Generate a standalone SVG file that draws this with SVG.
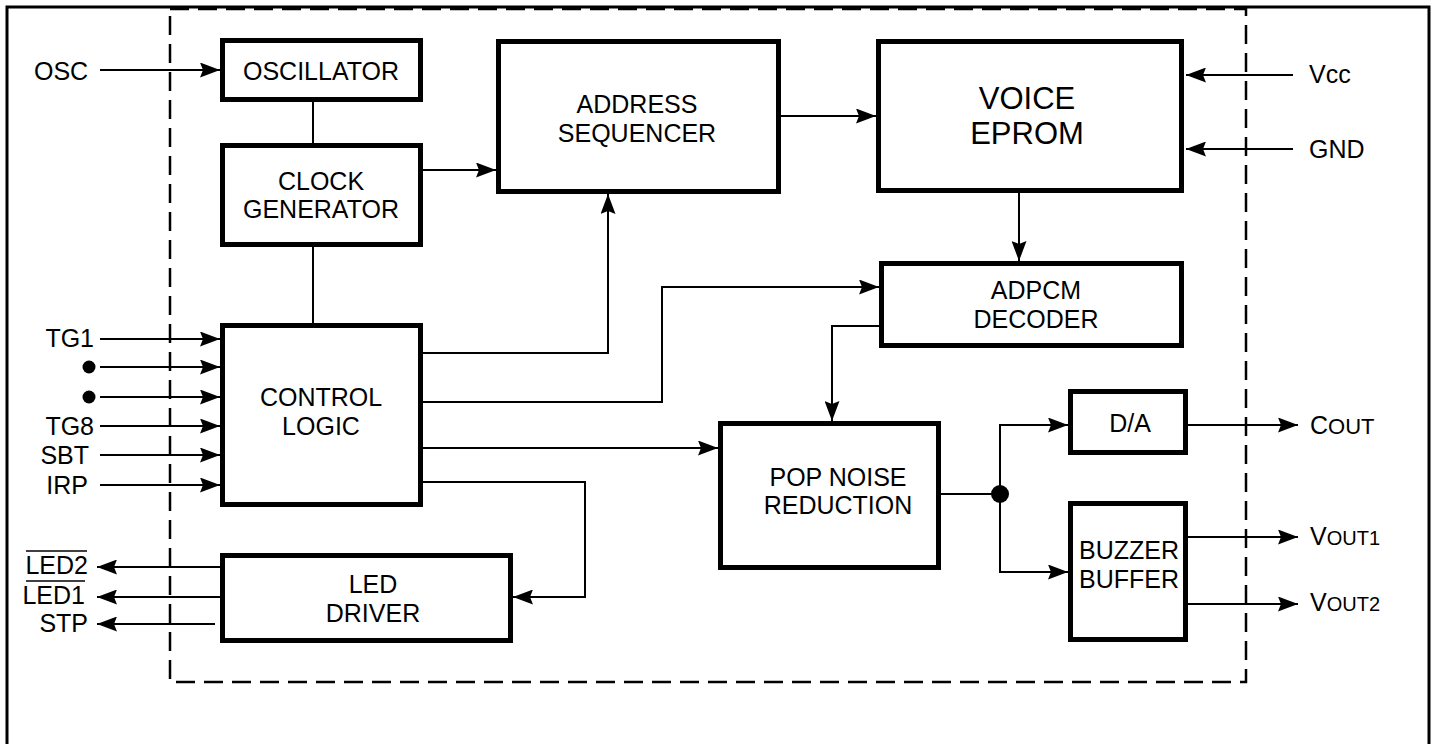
<svg xmlns="http://www.w3.org/2000/svg" width="1437" height="744" viewBox="0 0 1437 744">
<style>
.box{fill:#fff;stroke:#000;stroke-width:5}
.ln{fill:none;stroke:#000;stroke-width:2}
.arr{marker-end:url(#ah)}
text{font-family:"Liberation Sans",Arial,Helvetica,sans-serif;font-size:25px;fill:#000}
.c{text-anchor:middle}
.r{text-anchor:end}
.big{font-size:31px}
.sm{font-size:20px}
</style>
<defs>
<marker id="ah" viewBox="0 0 20 15" refX="20" refY="7.5" markerWidth="20" markerHeight="15" markerUnits="userSpaceOnUse" orient="auto">
<path d="M0,0 L20,7.5 L0,15 L3,7.5 z" fill="#000"/>
</marker>
</defs>
<rect width="1437" height="744" fill="#fff"/>
<rect x="7" y="7" width="1422" height="780" fill="none" stroke="#000" stroke-width="3"/>
<rect x="170" y="9" width="1076" height="673" fill="none" stroke="#000" stroke-width="2.5" stroke-dasharray="19 9"/>

<g id="connectors">
<path class="ln arr" d="M100,70 H220"/>
<path class="ln" d="M313,102 V143"/>
<path class="ln" d="M313,247 V323"/>
<path class="ln arr" d="M423,170 H496"/>
<path class="ln arr" d="M781,116 H876"/>
<path class="ln arr" d="M423,353 H608 V194"/>
<path class="ln arr" d="M423,402 H662 V287 H879"/>
<path class="ln arr" d="M1019,193 V261"/>
<path class="ln arr" d="M879,326 H832 V421"/>
<path class="ln arr" d="M423,448 H718"/>
<path class="ln arr" d="M423,482 H585 V597 H513"/>
<path class="ln" d="M941,494 H1000"/>
<path class="ln arr" d="M1000,494 V425 H1068"/>
<path class="ln arr" d="M1000,494 V572 H1068"/>
<circle cx="1000" cy="494" r="9" fill="#000"/>
<path class="ln arr" d="M1188,425 H1298"/>
<path class="ln arr" d="M1188,537 H1298"/>
<path class="ln arr" d="M1188,604 H1298"/>
<path class="ln arr" d="M1293,75 H1186"/>
<path class="ln arr" d="M1293,149 H1186"/>
<path class="ln arr" d="M100,339 H220"/>
<path class="ln arr" d="M100,367 H220"/>
<path class="ln arr" d="M100,397 H220"/>
<path class="ln arr" d="M100,426 H220"/>
<path class="ln arr" d="M100,455 H220"/>
<path class="ln arr" d="M100,485 H220"/>
<path class="ln arr" d="M220,567 H97"/>
<path class="ln arr" d="M220,597 H97"/>
<path class="ln arr" d="M215,624 H97"/>
</g>

<g id="pins">
<text x="34" y="80">OSC</text>
<text class="r" x="94" y="347">TG1</text>
<circle cx="89" cy="367" r="6.5" fill="#000"/>
<circle cx="89" cy="397" r="6.5" fill="#000"/>
<text class="r" x="94" y="435">TG8</text>
<text class="r" x="89" y="464">SBT</text>
<text class="r" x="88" y="494">IRP</text>
<text class="r" x="88" y="574">LED2</text>
<line x1="26" y1="551" x2="87" y2="551" stroke="#000" stroke-width="1.5"/>
<text class="r" x="85" y="604">LED1</text>
<line x1="26" y1="581" x2="85" y2="581" stroke="#000" stroke-width="1.5"/>
<text class="r" x="88" y="632">STP</text>
<text x="1309" y="83">Vcc</text>
<text x="1309" y="158">GND</text>
<text x="1310" y="434">C<tspan style="font-size:22px">OUT</tspan></text>
<text x="1310" y="545">V<tspan class="sm">OUT1</tspan></text>
<text x="1310" y="611">V<tspan class="sm">OUT2</tspan></text>
</g>

<g id="oscillator">
<rect class="box" x="222.5" y="40.5" width="198" height="59"/>
<text class="c" x="321" y="80">OSCILLATOR</text>
</g>
<g id="clock-generator">
<rect class="box" x="222.5" y="145.5" width="198" height="99"/>
<text class="c" x="321" y="190">CLOCK</text>
<text class="c" x="321" y="218">GENERATOR</text>
</g>
<g id="control-logic">
<rect class="box" x="222.5" y="325.5" width="198" height="179"/>
<text class="c" x="321" y="406">CONTROL</text>
<text class="c" x="321" y="435">LOGIC</text>
</g>
<g id="led-driver">
<rect class="box" x="222.5" y="555.5" width="288" height="85"/>
<text class="c" x="373" y="593">LED</text>
<text class="c" x="373" y="622">DRIVER</text>
</g>
<g id="address-sequencer">
<rect class="box" x="498.5" y="41.5" width="280" height="150"/>
<text class="c" x="637" y="113">ADDRESS</text>
<text class="c" x="637" y="142">SEQUENCER</text>
</g>
<g id="voice-eprom">
<rect class="box" x="878.5" y="41.5" width="303" height="149"/>
<text class="c big" x="1027" y="109">VOICE</text>
<text class="c big" x="1027" y="144">EPROM</text>
</g>
<g id="adpcm-decoder">
<rect class="box" x="881.5" y="263.5" width="300" height="82"/>
<text class="c" x="1036" y="299">ADPCM</text>
<text class="c" x="1036" y="328">DECODER</text>
</g>
<g id="pop-noise-reduction">
<rect class="box" x="720.5" y="423.5" width="218" height="144"/>
<text class="c" x="838" y="486">POP NOISE</text>
<text class="c" x="838" y="514">REDUCTION</text>
</g>
<g id="da">
<rect class="box" x="1070.5" y="391.5" width="115" height="61"/>
<text class="c" x="1130" y="432">D/A</text>
</g>
<g id="buzzer-buffer">
<rect class="box" x="1070.5" y="503.5" width="115" height="136"/>
<text class="c" x="1129" y="559">BUZZER</text>
<text class="c" x="1129" y="588">BUFFER</text>
</g>
</svg>
